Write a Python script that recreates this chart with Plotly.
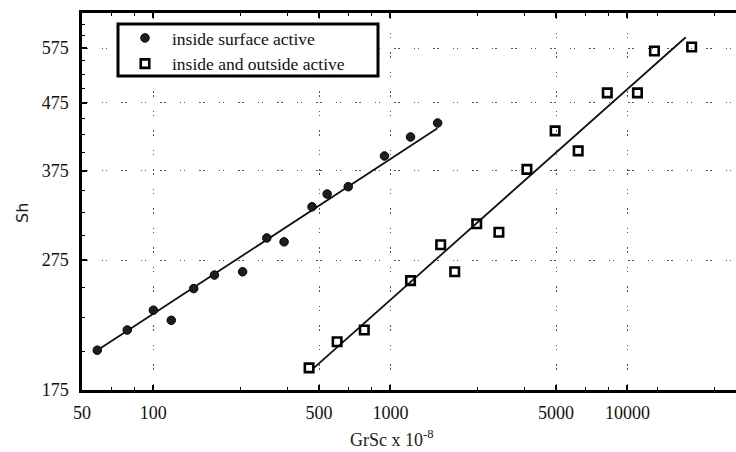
import plotly.graph_objects as go

# Sherwood number vs. GrSc (x 10^-8), log-log
surf_x = [58, 77.6, 100, 119, 148, 181, 238, 301, 356, 467, 541, 664, 944, 1216, 1582]
surf_y = [201, 215.6, 231, 223, 249, 261, 264, 297, 293, 331, 346, 355, 395, 422, 443]

both_x = [454, 596, 776, 1216, 1630, 1868, 2313, 2869, 3767, 4954, 6198, 8222, 11020, 13000, 18660]
both_y = [189, 207, 215.6, 256, 290, 264, 312, 303, 377, 431, 402, 492, 492, 569, 577]

# power-law fit lines (end points)
surf_fit_x = [57, 1580]
surf_fit_y = [200, 435]
both_fit_x = [476, 17620]
both_fit_y = [189, 597]

x_ticks = [50, 100, 500, 1000, 5000, 10000]
y_ticks = [175, 275, 375, 475, 575]
x_minor = [66.7, 83.3, 233.3, 366.7, 666.7, 833.3, 2333, 3667, 6667, 8333, 13333, 23333]
y_minor = [200, 225, 250, 300, 325, 350, 400, 425, 450, 500, 525, 550, 600, 625]

FONT = "Liberation Serif"
W, H = 736, 452
L, R, T, B = 82, 0, 13, 62

fig = go.Figure()
fig.add_trace(go.Scatter(x=surf_fit_x, y=surf_fit_y, mode="lines",
                         line=dict(color="#111", width=1.8), showlegend=False,
                         hoverinfo="skip"))
fig.add_trace(go.Scatter(x=both_fit_x, y=both_fit_y, mode="lines",
                         line=dict(color="#111", width=1.8), showlegend=False,
                         hoverinfo="skip"))
fig.add_trace(go.Scatter(x=surf_x, y=surf_y, mode="markers",
                         name="inside surface active",
                         marker=dict(symbol="circle", size=8.5, color="#1e1e1e",
                                     line=dict(color="#000", width=1))))
fig.add_trace(go.Scatter(x=both_x, y=both_y, mode="markers",
                         name="inside and outside active",
                         marker=dict(symbol="square-open", size=8.5, color="#000",
                                     line=dict(color="#000", width=2.6))))

grid_dash = "1.5px,2.5px,1.5px,14px"
axis_common = dict(
    type="log", showline=True, linecolor="#000", linewidth=2.5,
    mirror="allticks", ticks="inside", ticklen=5, tickwidth=1.5, tickcolor="#000",
    showgrid=True, gridcolor="#555", gridwidth=1, griddash=grid_dash,
    zeroline=False, tickfont=dict(family=FONT, size=18, color="#111"),
)

fig.update_xaxes(**axis_common, range=[1.699, 4.458],
                 tickmode="array", tickvals=x_ticks, ticktext=[str(v) for v in x_ticks],
                 minor=dict(tickvals=x_minor, ticks="inside", ticklen=3,
                            tickwidth=1.2, tickcolor="#000", showgrid=False),
                 ticklabelstandoff=5)
fig.update_yaxes(**axis_common, range=[2.2430, 2.8126],
                 tickmode="array", tickvals=y_ticks, ticktext=[str(v) for v in y_ticks],
                 minor=dict(tickvals=y_minor, ticks="inside", ticklen=3,
                            tickwidth=1.2, tickcolor="#000", showgrid=False),
                 ticklabelstandoff=7)
fig.update_yaxes(mirror=False)

def px_x(px):
    return (px - L) / (W - L - R)

def px_y(py):
    return 1 - (py - T) / (H - T - B)

# legend frame
fig.add_shape(type="rect", xref="paper", yref="paper",
              x0=px_x(118), x1=px_x(378), y0=px_y(76), y1=px_y(24),
              line=dict(color="#000", width=3), fillcolor="white", layer="above")

fig.update_layout(
    width=W, height=H,
    margin=dict(l=L, r=R, t=T, b=B),
    paper_bgcolor="white", plot_bgcolor="white",
    font=dict(family=FONT, color="#222"),
    legend=dict(x=px_x(118), y=px_y(20), xanchor="left", yanchor="top",
                bgcolor="rgba(0,0,0,0)", borderwidth=0,
                font=dict(family=FONT, size=17.5, color="#111"),
                itemwidth=44, tracegroupgap=0),
    annotations=[
        dict(text="Sh", xref="paper", yref="paper", x=-(L - 22) / (W - L - R),
             y=px_y(213), textangle=-90, showarrow=False,
             font=dict(family="DejaVu Sans", size=16, color="#222"),
             xanchor="center", yanchor="middle"),
        dict(text="GrSc x 10<sup>-8</sup>", xref="paper", yref="paper",
             x=px_x(392), y=px_y(438), showarrow=False,
             font=dict(family=FONT, size=18, color="#222"),
             xanchor="center", yanchor="middle"),
    ],
)

fig.write_html("out.html")
